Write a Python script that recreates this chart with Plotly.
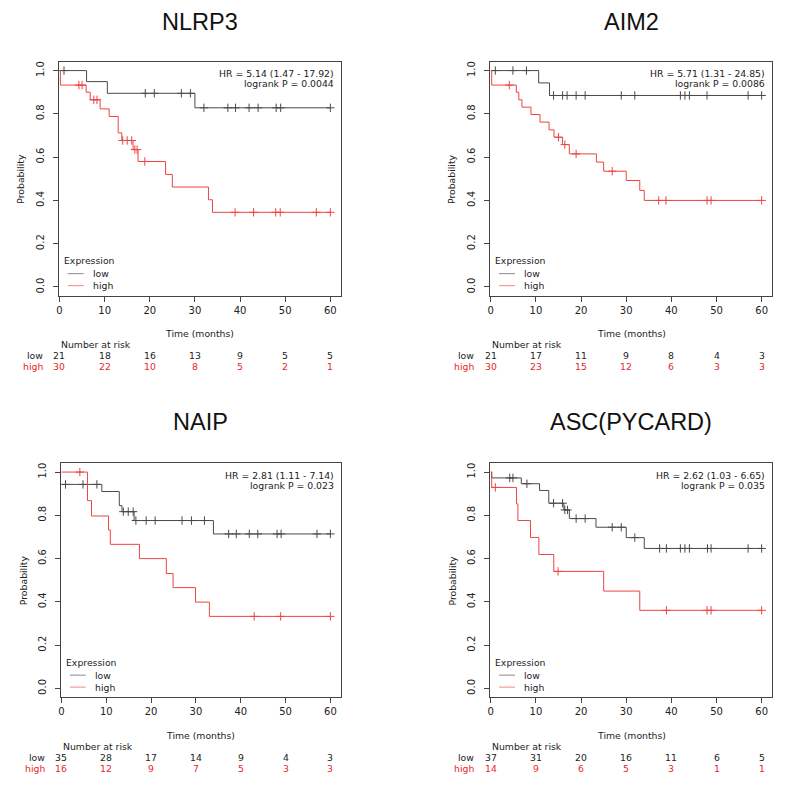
import numpy as np
import plotly.graph_objects as go

# ---------------- data ----------------
titles = ["NLRP3", "AIM2", "NAIP", "ASC(PYCARD)"]
risk_times = [0, 10, 20, 30, 40, 50, 60]
x_ticks = [0, 10, 20, 30, 40, 50, 60]
y_ticks = [0.0, 0.2, 0.4, 0.6, 0.8, 1.0]

# NLRP3
nlrp3_low_t = [0, 6, 10.6, 30, 60]
nlrp3_low_s = [1.0, 0.949, 0.895, 0.828, 0.828]
nlrp3_low_cens = [1, 19, 21, 27, 29, 32, 37.3, 39, 42, 44, 48, 49, 60]
nlrp3_high_t = [0, 0.2, 5.9, 6.8, 9.0, 11, 13, 13.8, 16.3, 17.4, 23.5, 25, 33.0, 33.9, 60]
nlrp3_high_s = [1.0, 0.933, 0.9, 0.865, 0.823, 0.788, 0.712, 0.677, 0.635, 0.58, 0.52, 0.462, 0.403, 0.345, 0.345]
nlrp3_high_cens = [4.3, 5.0, 7.6, 8.3, 14, 15, 16, 16.7, 17.2, 18.9, 38.9, 43, 47.9, 48.9, 56.9, 60]
nlrp3_risk_low = [21, 18, 16, 13, 9, 5, 5]
nlrp3_risk_high = [30, 22, 10, 8, 5, 2, 1]
nlrp3_hr = "HR = 5.14 (1.47 - 17.92)"
nlrp3_p = "logrank P = 0.0044"

# AIM2
aim2_low_t = [0, 10.6, 13.0, 60]
aim2_low_s = [1.0, 0.943, 0.885, 0.885]
aim2_low_cens = [1, 4.9, 7.9, 13.9, 15.9, 16.9, 18.9, 20.9, 28.9, 31.9, 42, 43, 44, 47.9, 57, 60]
aim2_high_t = [0, 0.2, 5.65, 6.2, 6.9, 8.9, 10.9, 12.9, 14.0, 15.9, 17.4, 23.4, 25, 30, 33, 34, 60]
aim2_high_s = [1.0, 0.933, 0.9, 0.865, 0.831, 0.797, 0.762, 0.726, 0.692, 0.658, 0.615, 0.577, 0.535, 0.492, 0.446, 0.4, 0.4]
aim2_high_cens = [4.1, 15, 16.4, 18.9, 26.9, 37.2, 38.8, 47.9, 48.8, 60]
aim2_risk_low = [21, 17, 11, 9, 8, 4, 3]
aim2_risk_high = [30, 23, 15, 12, 6, 3, 3]
aim2_hr = "HR = 5.71 (1.31 - 24.85)"
aim2_p = "logrank P = 0.0086"

# NAIP
naip_low_t = [0, 9.0, 12.9, 13.5, 16.2, 33.9, 60]
naip_low_s = [0.943, 0.910, 0.845, 0.817, 0.776, 0.714, 0.714]
naip_low_cens = [0.9, 4.8, 7.9, 13.8, 14.9, 16, 16.6, 18.9, 20.9, 26.9, 29, 31.9, 37.3, 39, 41.9, 43.8, 48.1, 49, 57, 60]
naip_high_t = [0, 5.8, 6.7, 10.5, 10.9, 17.4, 23.4, 24.9, 29.9, 33.0, 60]
naip_high_s = [1.0, 0.868, 0.797, 0.732, 0.666, 0.6, 0.531, 0.466, 0.399, 0.333, 0.333]
naip_high_cens = [4.1, 43, 48.9, 60]
naip_risk_low = [35, 28, 17, 14, 9, 4, 3]
naip_risk_high = [16, 12, 9, 7, 5, 3, 3]
naip_hr = "HR = 2.81 (1.11 - 7.14)"
naip_p = "logrank P = 0.023"

# ASC(PYCARD)
asc_low_t = [0, 0.2, 6.75, 10.8, 12.85, 16.2, 17.4, 23.3, 30, 34, 60]
asc_low_s = [1.0, 0.973, 0.946, 0.915, 0.856, 0.825, 0.785, 0.745, 0.697, 0.647, 0.647]
asc_low_cens = [4.2, 4.9, 8, 13.9, 15.9, 16.4, 17.0, 18.9, 20.9, 26.9, 28.9, 31.9, 37.4, 38.9, 42, 43, 44, 48, 48.8, 57, 60]
asc_high_t = [0, 0.2, 5.7, 6.0, 8.8, 10.65, 13.95, 25, 33, 60]
asc_high_s = [1.0, 0.929, 0.853, 0.776, 0.698, 0.619, 0.541, 0.450, 0.361, 0.361]
asc_high_cens = [1.0, 14.9, 38.9, 47.9, 48.8, 60]
asc_risk_low = [37, 31, 20, 16, 11, 6, 5]
asc_risk_high = [14, 9, 6, 5, 3, 1, 1]
asc_hr = "HR = 2.62 (1.03 - 6.65)"
asc_p = "logrank P = 0.035"

panels = [
    (nlrp3_low_t, nlrp3_low_s, nlrp3_low_cens, nlrp3_high_t, nlrp3_high_s, nlrp3_high_cens,
     nlrp3_risk_low, nlrp3_risk_high, nlrp3_hr, nlrp3_p),
    (aim2_low_t, aim2_low_s, aim2_low_cens, aim2_high_t, aim2_high_s, aim2_high_cens,
     aim2_risk_low, aim2_risk_high, aim2_hr, aim2_p),
    (naip_low_t, naip_low_s, naip_low_cens, naip_high_t, naip_high_s, naip_high_cens,
     naip_risk_low, naip_risk_high, naip_hr, naip_p),
    (asc_low_t, asc_low_s, asc_low_cens, asc_high_t, asc_high_s, asc_high_cens,
     asc_risk_low, asc_risk_high, asc_hr, asc_p),
]

# ---------------- layout geometry (page pixels) ----------------
OFF = 8          # default page body margin
W = H = 771
box_x = [(56, 339), (489, 772), (58, 339), (489, 772)]
box_y = [(61, 295), (61, 295), (463, 697), (463, 697)]

LOW_COL = "#4a4a4a"
HIGH_COL = "#ee4444"
TXT = "#222222"
RED_TXT = "#e8262b"
FONT = "DejaVu Sans"
FS = 9.3


def px_x(p):
    return (p - OFF) / W


def px_y(p):
    return 1 - (p - OFF) / H


def step_value(t, s, c):
    idx = np.searchsorted(np.asarray(t, float), np.asarray(c, float), side="right") - 1
    return np.asarray(s, float)[idx]


fig = go.Figure()
annotations = []
shapes = []

for i, (lt, ls, lc, ht, hs, hc, rl, rh, hr, pv) in enumerate(panels):
    n = i + 1
    xa = "x" if n == 1 else f"x{n}"
    ya = "y" if n == 1 else f"y{n}"
    xl, xr = box_x[i]
    yt, yb = box_y[i]

    # curves
    for t, s, c, col in ((lt, ls, lc, LOW_COL), (ht, hs, hc, HIGH_COL)):
        fig.add_trace(go.Scatter(x=t, y=s, mode="lines", line=dict(color=col, width=1, shape="hv"),
                                 xaxis=xa, yaxis=ya, showlegend=False, hoverinfo="skip"))
        fig.add_trace(go.Scatter(x=c, y=step_value(t, s, c), mode="markers",
                                 marker=dict(symbol="cross-thin", size=6, line=dict(color=col, width=1)),
                                 xaxis=xa, yaxis=ya, showlegend=False, hoverinfo="skip"))

    axkey_x = "xaxis" if n == 1 else f"xaxis{n}"
    axkey_y = "yaxis" if n == 1 else f"yaxis{n}"
    fig.layout[axkey_x] = dict(
        domain=[px_x(xl), px_x(xr)], range=[-0.15, 62.3], anchor=ya,
        tickvals=x_ticks, ticks="outside", ticklen=5, tickcolor="#444",
        showline=True, linecolor="#444", linewidth=1, mirror=True,
        showgrid=False, zeroline=False,
        tickfont=dict(family=FONT, size=10, color=TXT),
    )
    fig.layout[axkey_y] = dict(
        domain=[px_y(yb), px_y(yt)], range=[-0.04, 1.04], anchor=xa,
        tickvals=y_ticks, ticktext=[f"{v:.1f}" for v in y_ticks], tickangle=-90,
        ticks="outside", ticklen=5, tickcolor="#444", ticklabelstandoff=5,
        showline=True, linecolor="#444", linewidth=1, mirror=True,
        showgrid=False, zeroline=False,
        tickfont=dict(family=FONT, size=10, color=TXT),
    )

    # title
    ty = max(yt - 41, 21.5)
    annotations.append(dict(text=titles[i], x=px_x((xl + xr) / 2), y=px_y(ty), xref="paper", yref="paper",
                            showarrow=False, xanchor="center", yanchor="middle", borderpad=0,
                            font=dict(family="Liberation Sans", size=23.5, color="#111")))
    # HR / p-value
    for txt, off in ((hr, 12), (pv, 22)):
        annotations.append(dict(text=txt, x=px_x(xr - 5), y=px_y(yt + off), xref="paper", yref="paper",
                                showarrow=False, xanchor="right", yanchor="middle",
                                font=dict(family=FONT, size=FS, color=TXT)))
    # axis titles
    annotations.append(dict(text="Probability", x=px_x(xl - 38), y=px_y((yt + yb) / 2), xref="paper",
                            yref="paper", showarrow=False, textangle=-90, xanchor="center", yanchor="middle",
                            font=dict(family=FONT, size=FS, color=TXT)))
    annotations.append(dict(text="Time (months)", x=px_x((xl + xr) / 2), y=px_y(yb + 38), xref="paper",
                            yref="paper", showarrow=False, xanchor="center", yanchor="middle",
                            font=dict(family=FONT, size=FS, color=TXT)))
    # legend
    annotations.append(dict(text="Expression", x=px_x(xl + 3), y=px_y(yb - 35), xref="paper", yref="paper",
                            showarrow=False, xanchor="left", yanchor="middle",
                            font=dict(family=FONT, size=FS, color=TXT)))
    for lab, col, off in (("low", "#8a8a8a", 22), ("high", "#f28a8a", 10)):
        shapes.append(dict(type="line", xref="paper", yref="paper", x0=px_x(xl + 9), x1=px_x(xl + 25),
                           y0=px_y(yb - off), y1=px_y(yb - off), line=dict(color=col, width=1)))
        annotations.append(dict(text=lab, x=px_x(xl + 32), y=px_y(yb - off), xref="paper", yref="paper",
                                showarrow=False, xanchor="left", yanchor="middle",
                                font=dict(family=FONT, size=FS, color=TXT)))
    # number at risk table
    annotations.append(dict(text="Number at risk", x=px_x(xl), y=px_y(yb + 49), xref="paper", yref="paper",
                            showarrow=False, xanchor="left", yanchor="middle",
                            font=dict(family=FONT, size=FS, color=TXT)))
    for lab, vals, col, off in (("low", rl, TXT, 60), ("high", rh, RED_TXT, 71)):
        annotations.append(dict(text=lab, x=px_x(xl - 14), y=px_y(yb + off), xref="paper", yref="paper",
                                showarrow=False, xanchor="right", yanchor="middle",
                                font=dict(family=FONT, size=FS, color=col)))
        for tm, v in zip(risk_times, vals):
            annotations.append(dict(text=str(v), x=tm, y=px_y(yb + off), xref=xa, yref="paper",
                                    showarrow=False, xanchor="center", yanchor="middle",
                                    font=dict(family=FONT, size=FS, color=col)))

fig.update_layout(
    width=W, height=H, autosize=False,
    margin=dict(l=0, r=0, t=0, b=0),
    paper_bgcolor="white", plot_bgcolor="white",
    annotations=annotations, shapes=shapes, showlegend=False,
)

fig.write_html("out.html")
